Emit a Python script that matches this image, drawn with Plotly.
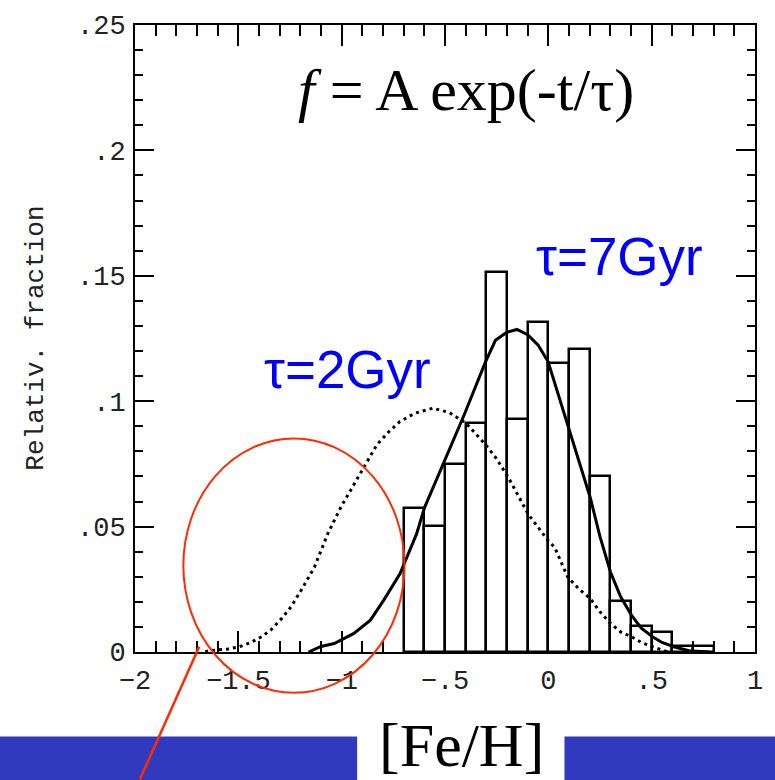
import plotly.graph_objects as go

# ---- data ----
hist_centers = [-0.65, -0.55, -0.45, -0.35, -0.25, -0.15, -0.05, 0.05, 0.15, 0.25, 0.35, 0.45, 0.55, 0.65, 0.75]
hist_values = [0.0576, 0.0503, 0.0748, 0.0915, 0.1516, 0.0930, 0.1315, 0.1154, 0.1210, 0.0701, 0.0202, 0.0103, 0.0078, 0.0025, 0.0025]
bin_width = 0.1

tau7_x = [-1.16, -1.10, -1.036, -0.941, -0.861, -0.797, -0.718, -0.638, -0.599, -0.511, -0.407, -0.304, -0.256,
          -0.20, -0.152, -0.10, -0.049, -0.001, 0.05, 0.099, 0.15, 0.203, 0.25, 0.301, 0.35, 0.402, 0.45, 0.504,
          0.55, 0.607, 0.68, 0.78]
tau7_y = [0.0, 0.0022, 0.0034, 0.0074, 0.0127, 0.0206, 0.0312, 0.047, 0.0576, 0.0748, 0.0946, 0.1157, 0.1243,
          0.1275, 0.1286, 0.1265, 0.1223, 0.1157, 0.102, 0.0893, 0.076, 0.0615, 0.046, 0.0318, 0.022, 0.0147, 0.0095,
          0.0061, 0.0038, 0.0021, 0.0005, 0.0]

tau2_x = [-1.66, -1.642, -1.55, -1.498, -1.44, -1.387, -1.34, -1.291, -1.245, -1.196, -1.132, -1.068, -1.005,
          -0.941, -0.877, -0.829, -0.77, -0.718, -0.646, -0.559, -0.48, -0.399, -0.304, -0.25, -0.193, -0.097,
          -0.001, 0.031, 0.094, 0.15, 0.203, 0.25, 0.301, 0.35, 0.402, 0.45, 0.504, 0.58]
tau2_y = [0.0, 0.0005, 0.0012, 0.002, 0.0038, 0.0061, 0.009, 0.0133, 0.018, 0.0246, 0.0338, 0.047, 0.0576,
          0.0668, 0.0761, 0.0827, 0.088, 0.0919, 0.0952, 0.0972, 0.0955, 0.0913, 0.0827, 0.077, 0.0695, 0.0549,
          0.0444, 0.0417, 0.0298, 0.025, 0.0213, 0.016, 0.0114, 0.008, 0.0061, 0.0038, 0.0021, 0.0]

x_tickvals = [-2, -1.5, -1, -0.5, 0, 0.5, 1]
x_ticktext = ["\u22122", "\u22121.5", "\u22121", "\u2212.5", "0", ".5", "1"]
y_tickvals = [0, 0.05, 0.1, 0.15, 0.2, 0.25]
y_ticktext = ["0", ".05", ".1", ".15", ".2", ".25"]

fig = go.Figure()

fig.add_trace(go.Bar(
    x=hist_centers, y=hist_values, width=bin_width,
    marker=dict(color="rgba(0,0,0,0)", line=dict(color="black", width=2.5)),
    showlegend=False, hoverinfo="skip"))

fig.add_trace(go.Scatter(x=tau2_x, y=tau2_y, mode="lines",
                         line=dict(color="black", width=3, dash="3px,4px"), showlegend=False))
fig.add_trace(go.Scatter(x=tau7_x, y=tau7_y, mode="lines",
                         line=dict(color="black", width=3), showlegend=False))

tickfont = dict(family="Liberation Mono, Courier New, monospace", size=27, color="#222")

fig.update_xaxes(
    range=[-2, 1], tickvals=x_tickvals, ticktext=x_ticktext, tickfont=tickfont,
    ticks="inside", ticklen=21, tickwidth=1.5, tickcolor="black",
    minor=dict(ticks="inside", ticklen=11, dtick=0.1, tick0=0, tickwidth=1.5, tickcolor="black"),
    showline=True, linecolor="black", linewidth=2, mirror="allticks",
    showgrid=False, zeroline=False, ticklabelstandoff=3)
fig.update_yaxes(
    range=[0, 0.25], tickvals=y_tickvals, ticktext=y_ticktext, tickfont=tickfont,
    ticks="inside", ticklen=19, tickwidth=1.5, tickcolor="black",
    minor=dict(ticks="inside", ticklen=8, dtick=0.01, tick0=0, tickwidth=1.5, tickcolor="black"),
    showline=True, linecolor="black", linewidth=2, mirror="allticks",
    showgrid=False, zeroline=False, ticklabelstandoff=2)

blue_bar = "#313ABF"
shapes = [
    dict(type="rect", xref="paper", yref="paper", x0=-0.25, x1=0.3583, y0=-0.1347, y1=-0.26,
         fillcolor=blue_bar, line=dict(width=0), layer="above"),
    dict(type="rect", xref="paper", yref="paper", x0=0.6927, x1=1.05, y0=-0.1347, y1=-0.26,
         fillcolor=blue_bar, line=dict(width=0), layer="above"),
    dict(type="circle", xref="paper", yref="paper", x0=0.078, x1=0.4347, y0=-0.065, y1=0.3407,
         line=dict(color="#FF2A00", width=2), layer="above"),
    dict(type="line", xref="paper", yref="paper", x0=0.1035, y0=0.0084, x1=0.008, y1=-0.2029,
         line=dict(color="#FF2A00", width=2.5), layer="above"),
]

annotations = [
    dict(text="<i>f</i> = A exp(-t/\u03c4)", xref="paper", yref="paper", x=0.5334, y=0.896,
         xanchor="center", yanchor="middle", showarrow=False,
         font=dict(family="Liberation Serif, Times New Roman, serif", size=60, color="black")),
    dict(text="\u03c4=7Gyr", xref="paper", yref="paper", x=0.782, y=0.631,
         xanchor="center", yanchor="middle", showarrow=False,
         font=dict(family="Liberation Sans, Arial, sans-serif", size=53, color="#0000FF")),
    dict(text="\u03c4=2Gyr", xref="paper", yref="paper", x=0.3424, y=0.451,
         xanchor="center", yanchor="middle", showarrow=False,
         font=dict(family="Liberation Sans, Arial, sans-serif", size=53, color="#0000FF")),
    dict(text="Relativ. fraction", xref="paper", yref="paper", x=-0.161, y=0.5,
         xanchor="center", yanchor="middle", showarrow=False, textangle=-90,
         font=dict(family="Liberation Mono, Courier New, monospace", size=26, color="#222")),
    dict(text="[Fe/H]", xref="paper", yref="paper", x=0.526, y=-0.1487,
         xanchor="center", yanchor="middle", showarrow=False,
         font=dict(family="Liberation Serif, Times New Roman, serif", size=62, color="black")),
]

fig.update_layout(
    width=775, height=780,
    margin=dict(l=135, r=12, t=21, b=128),
    paper_bgcolor="white", plot_bgcolor="white",
    shapes=shapes, annotations=annotations,
    bargap=0, showlegend=False,
)

fig.write_html("out.html")
